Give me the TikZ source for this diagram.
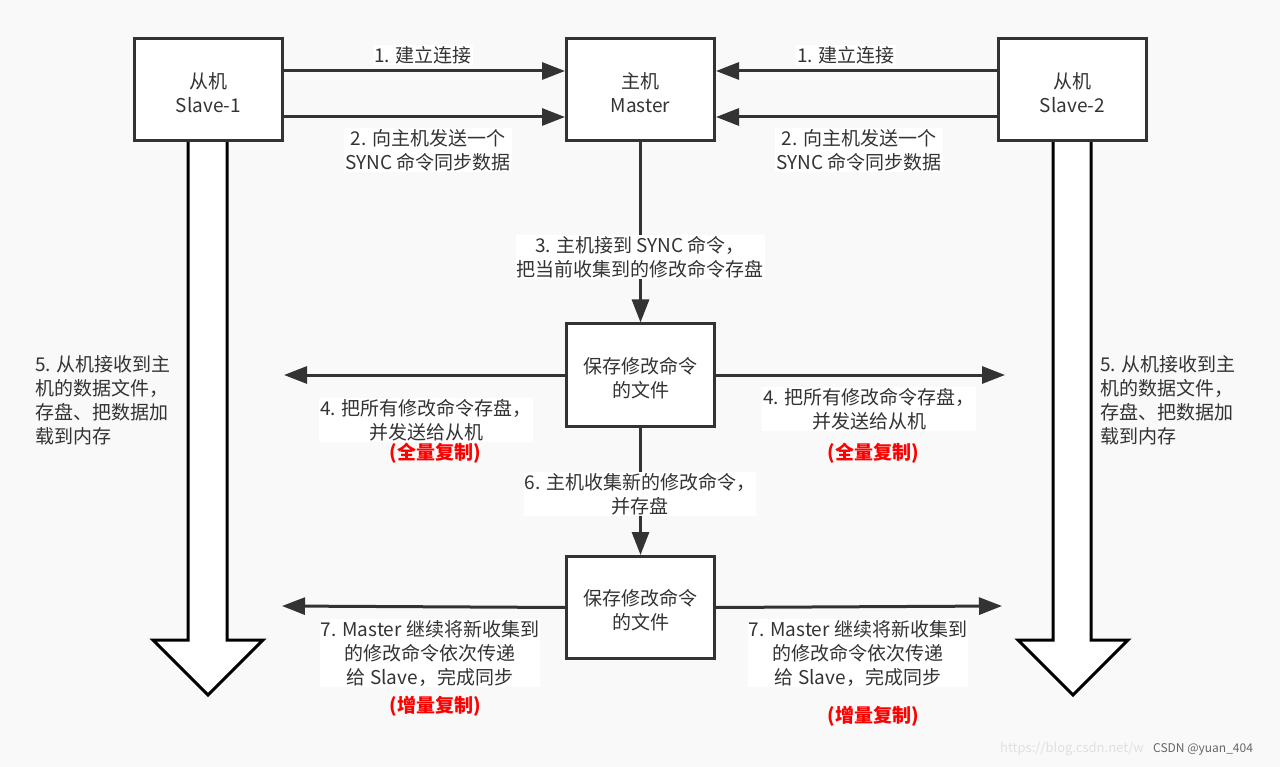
\documentclass[tikz,border=0pt]{standalone}
\usepackage{fontspec}
\setmainfont{Noto Sans CJK SC}
\usetikzlibrary{arrows.meta}
\definecolor{bg}{HTML}{F9F9F9}
\definecolor{ln}{HTML}{333333}
\definecolor{tx}{HTML}{333333}
\definecolor{redtx}{HTML}{FF0000}
\begin{document}
\begin{tikzpicture}[x=1pt,y=-1pt,
  every node/.style={text=tx,font=\fontsize{19}{24}\selectfont},
  box/.style={draw=ln,line width=3pt,fill=white,minimum width=148pt,minimum height=102pt,align=center,inner sep=0pt},
  boxtext/.style={align=center,inner sep=0pt},
  arr/.style={draw=ln,line width=3pt,-{Triangle[length=23pt,width=17pt]}},
  lbl/.style={fill=white,align=center,inner sep=1pt},
  side/.style={align=left,inner sep=0pt},
  redlbl/.style={text=redtx,font=\fontsize{19}{24}\selectfont\bfseries},
  big/.style={draw=black,line width=3pt,fill=white,line join=miter}]
\fill[bg] (0,0) rectangle (1280,767);
\useasboundingbox (0,0) rectangle (1280,767);
% big hollow arrows
\draw[big] (188,130) -- (188,640) -- (153,640) -- (208,695) -- (263,640) -- (227,640) -- (227,130);
\draw[big] (1053,130) -- (1053,640) -- (1018,640) -- (1073,695) -- (1128,640) -- (1091,640) -- (1091,130);
% boxes
\node[box] (s1) at (208.5,89.5) {};
\node[boxtext] (s1t) at ([yshift=-3pt]s1.center) {从机\\Slave-1};
\node[box] (m) at (640.5,89.5) {};
\node[boxtext] (mt) at ([yshift=-3pt]m.center) {主机\\Master};
\node[box] (s2) at (1072.5,89.5) {};
\node[boxtext] (s2t) at ([yshift=-3pt]s2.center) {从机\\Slave-2};
\node[box] (b3) at (640.5,375) {};
\node[boxtext] (b3t) at ([yshift=-3pt]b3.center) {保存修改命令\\的文件};
\node[box] (b4) at (640.5,607.5) {};
\node[boxtext] (b4t) at ([yshift=-3pt]b4.center) {保存修改命令\\的文件};
% free ends
\coordinate (l3) at (284,375);
\coordinate (r3) at (1005,375);
\coordinate (l4) at (282,606);
\coordinate (r4) at (1002,606);
% connectors
\draw[arr] ([yshift=18.5pt]s1.east) -- ([yshift=18.5pt]m.west);
\draw[arr] ([yshift=-27.5pt]s1.east) -- ([yshift=-27.5pt]m.west);
\draw[arr] ([yshift=18.5pt]s2.west) -- ([yshift=18.5pt]m.east);
\draw[arr] ([yshift=-27.5pt]s2.west) -- ([yshift=-27.5pt]m.east);
\draw[arr] (m.south) -- (b3.north);
\draw[arr] (b3.south) -- (b4.north);
\draw[arr] (b3.west) -- (l3);
\draw[arr] (b3.east) -- (r3);
\draw[arr] (b4.west) -- (l4);
\draw[arr] (b4.east) -- (r4);
% labels
\node[lbl] (t1l) at (423,55) {1. 建立连接};
\node[lbl] (t2l) at (428,150) {2. 向主机发送一个\\SYNC 命令同步数据};
\node[lbl] (t1r) at (846,55) {1. 建立连接};
\node[lbl] (t2r) at (859,150) {2. 向主机发送一个\\SYNC 命令同步数据};
\node[lbl] (t3) at (640,257) {3. 主机接到 SYNC 命令，\\把当前收集到的修改命令存盘};
\node[lbl] (t4l) at (426,420) {4. 把所有修改命令存盘，\\并发送给从机};
\node[redlbl] (r4l) at (435,453) {(全量复制)};
\node[lbl] (t4r) at (869,409) {4. 把所有修改命令存盘，\\并发送给从机};
\node[redlbl] (r4r) at (873,453) {(全量复制)};
\node[lbl] (t6) at (640,494) {6. 主机收集新的修改命令，\\并存盘};
\node[lbl] (t7l) at (430,653) {7. Master 继续将新收集到\\的修改命令依次传递\\给 Slave，完成同步};
\node[redlbl] (r7l) at (435,706) {(增量复制)};
\node[lbl] (t7r) at (858,653) {7. Master 继续将新收集到\\的修改命令依次传递\\给 Slave，完成同步};
\node[redlbl] (r7r) at (873,716) {(增量复制)};
\node[side,anchor=north west] (t5l) at (35,355) {5. 从机接收到主\\机的数据文件，\\存盘、把数据加\\载到内存};
\node[side,anchor=north west] (t5r) at (1100,355) {5. 从机接收到主\\机的数据文件，\\存盘、把数据加\\载到内存};
% watermark
\node[anchor=west,inner sep=0pt,text=black!12,font=\fontsize{13}{15}\selectfont] (url) at (1000,749) {https://blog.csdn.net/w};
\node[anchor=west,inner sep=0pt,text=black!60,font=\fontsize{12}{14}\selectfont] (wm) at (1153,749) {CSDN @yuan\_404};
\end{tikzpicture}
\end{document}
